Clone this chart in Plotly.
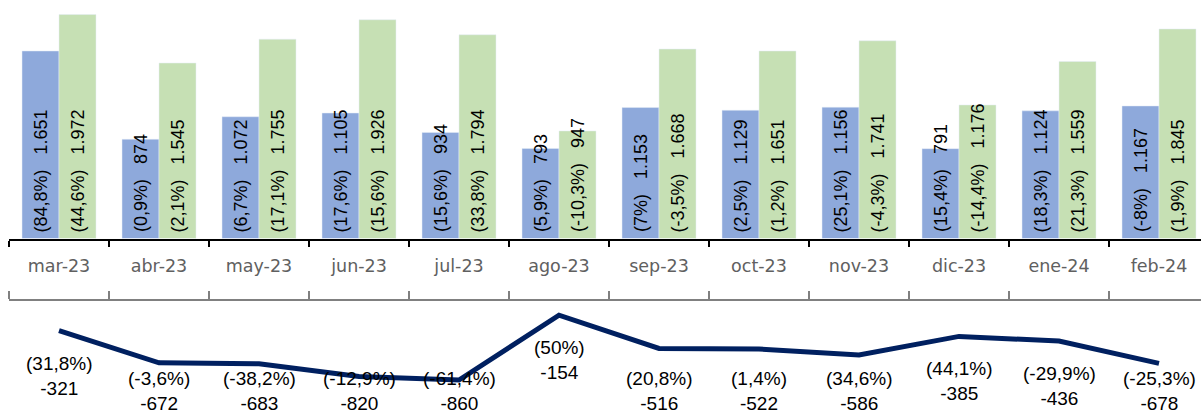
import plotly.graph_objects as go

cats = ["mar-23", "abr-23", "may-23", "jun-23", "jul-23", "ago-23",
        "sep-23", "oct-23", "nov-23", "dic-23", "ene-24", "feb-24"]
blue_vals = [1651, 874, 1072, 1105, 934, 793, 1153, 1129, 1156, 791, 1124, 1167]
blue_pct = ["84,8%", "0,9%", "6,7%", "17,6%", "15,6%", "5,9%", "7%", "2,5%",
            "25,1%", "15,4%", "18,3%", "-8%"]
green_vals = [1972, 1545, 1755, 1926, 1794, 947, 1668, 1651, 1741, 1176, 1559, 1845]
green_pct = ["44,6%", "2,1%", "17,1%", "15,6%", "33,8%", "-10,3%", "-3,5%", "1,2%",
             "-4,3%", "-14,4%", "21,3%", "1,9%"]
net_vals = [-321, -672, -683, -820, -860, -154, -516, -522, -586, -385, -436, -678]
net_pct = ["31,8%", "-3,6%", "-38,2%", "-12,9%", "-61,4%", "50%", "20,8%", "1,4%",
           "34,6%", "44,1%", "-29,9%", "-25,3%"]

BLUE = "#8EA9DB"
GREEN = "#C6E0B4"
NAVY = "#002060"
GRAY = "#808080"
LABEL_FONT = "Liberation Sans, Arial, sans-serif"
LABEL_FLOOR = -491  # labels of the lower chart are kept inside its area


def fmt(v):
    return f"{v:,}".replace(",", ".")


n = len(cats)
xrange_ = [-0.5, n - 0.58]
boundaries = [i - 0.5 for i in range(n)]

fig = go.Figure()
fig.add_trace(go.Bar(x=cats, y=blue_vals, marker_color=BLUE, xaxis="x", yaxis="y",
                     hoverinfo="skip"))
fig.add_trace(go.Bar(x=cats, y=green_vals, marker_color=GREEN, xaxis="x", yaxis="y",
                     hoverinfo="skip"))
fig.add_trace(go.Scatter(x=cats, y=net_vals, mode="lines", xaxis="x2", yaxis="y2",
                         line=dict(color=NAVY, width=5), hoverinfo="skip"))

annotations = []
for c, v, p in zip(cats, blue_vals, blue_pct):
    annotations.append(dict(x=c, y=0, xref="x", yref="y", xshift=-18.5, yshift=4,
                            text=f"({p})\u00a0\u00a0\u00a0{fmt(v)}", textangle=-90,
                            showarrow=False, xanchor="center", yanchor="bottom",
                            font=dict(family=LABEL_FONT, size=18, color="black")))
for c, v, p in zip(cats, green_vals, green_pct):
    annotations.append(dict(x=c, y=0, xref="x", yref="y", xshift=18.5, yshift=4,
                            text=f"({p})\u00a0\u00a0\u00a0{fmt(v)}", textangle=-90,
                            showarrow=False, xanchor="center", yanchor="bottom",
                            font=dict(family=LABEL_FONT, size=18, color="black")))
for c, v, p in zip(cats, net_vals, net_pct):
    annotations.append(dict(x=c, y=max(v, LABEL_FLOOR), xref="x2", yref="y2", yshift=-20,
                            text=f"({p})<br>{fmt(v)}", showarrow=False,
                            xanchor="center", yanchor="top",
                            font=dict(family=LABEL_FONT, size=19, color="black")))

top_bottom = (414 - 238.5) / 414
bot_top = (414 - 301) / 414

fig.update_layout(
    width=1201, height=414,
    margin=dict(l=9, r=0, t=0, b=0),
    paper_bgcolor="white", plot_bgcolor="white",
    showlegend=False,
    barmode="group", bargap=0.26, bargroupgap=0,
    annotations=annotations,
    xaxis=dict(domain=[0, 1], anchor="y", type="category", range=xrange_,
               tickson="boundaries", ticks="outside", ticklen=6, tickwidth=2,
               tickcolor="black", showline=True, linecolor="black", linewidth=2,
               showgrid=False, zeroline=False, ticklabelstandoff=10,
               tickfont=dict(family="DejaVu Sans", size=17.5, color="#606060")),
    yaxis=dict(domain=[top_bottom, 1], range=[0, 2100], visible=False),
    xaxis3=dict(overlaying="x", anchor="y", type="linear", range=xrange_,
                tickmode="array", tickvals=boundaries, ticks="inside", ticklen=6,
                tickwidth=2, tickcolor="black", showticklabels=False,
                showline=False, showgrid=False, zeroline=False),
    xaxis2=dict(domain=[0, 1], anchor="y2", type="category", range=xrange_, side="top",
                tickson="boundaries", ticks="outside", ticklen=8, tickwidth=2,
                tickcolor=GRAY, showline=True, linecolor=GRAY, linewidth=2,
                showgrid=False, zeroline=False, showticklabels=False),
    xaxis4=dict(overlaying="x2", anchor="y2", type="linear", range=xrange_, side="top",
                tickmode="array", tickvals=boundaries, ticks="inside", ticklen=7,
                tickwidth=2, tickcolor=GRAY, showticklabels=False,
                showline=False, showgrid=False, zeroline=False),
    yaxis2=dict(domain=[0, bot_top], range=[-1229, 0], visible=False),
)

fig.write_html("out.html", config={"displayModeBar": False},
               post_script=["document.body.style.margin='0';"])
